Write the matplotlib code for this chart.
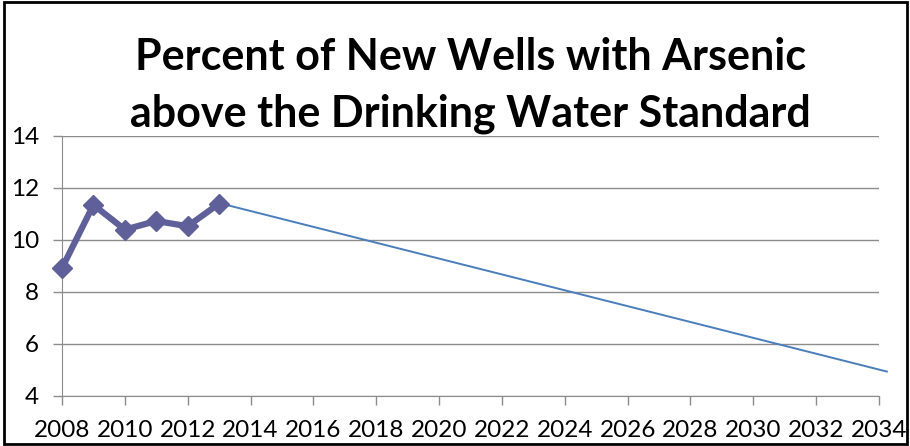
import matplotlib
matplotlib.use("Agg")
import matplotlib.pyplot as plt
from matplotlib.patches import Rectangle

# observed values
years = [2008, 2009, 2010, 2011, 2012, 2013]
percent = [8.92, 11.35, 10.40, 10.73, 10.53, 11.40]

# projection line end points
trend_years = [2013.0, 2034.25]
trend_vals = [11.42, 4.94]

xticks = list(range(2008, 2035, 2))
yticks = [4, 6, 8, 10, 12, 14]

plt.rcParams['font.family'] = ['Lato', 'DejaVu Sans']

fig = plt.figure(figsize=(9.10, 4.46), dpi=100)
ax = fig.add_axes([62/910, 1-396/446, (879-62)/910, (396-136)/446])

grid_c = '#8c8c8c'
ax.plot(years, percent, color='#5f5f9a', lw=4.5, marker='D', ms=10,
        mfc='#5f5f9a', mec='#5f5f9a', zorder=3, clip_on=False)
ax.plot(trend_years, trend_vals, color='#4a7ebb', lw=1.4, zorder=2, clip_on=False)

ax.set_xlim(2008, 2034)
ax.set_ylim(4, 14)
ax.set_xticks(xticks)
ax.set_yticks(yticks)
ax.yaxis.grid(True, color=grid_c, lw=1)
ax.set_axisbelow(True)
for s in ['top', 'right']:
    ax.spines[s].set_visible(False)
for s in ['left', 'bottom']:
    ax.spines[s].set_color(grid_c)
ax.tick_params(axis='both', colors=grid_c, labelcolor='black', labelsize=17.5,
               length=6.5, width=1)
ax.tick_params(axis='y', pad=10)
ax.tick_params(axis='x', pad=11)

fig.text(470/910, 1-86/446, 'Percent of New Wells with Arsenic\nabove the Drinking Water Standard',
         ha='center', va='center', fontsize=31, fontweight='bold', linespacing=1.5)

fig.patches.append(Rectangle((0.004, 0.004), 0.993, 0.991, transform=fig.transFigure,
                             fill=False, edgecolor='black', lw=2))

fig.savefig('out.png', dpi=100)
